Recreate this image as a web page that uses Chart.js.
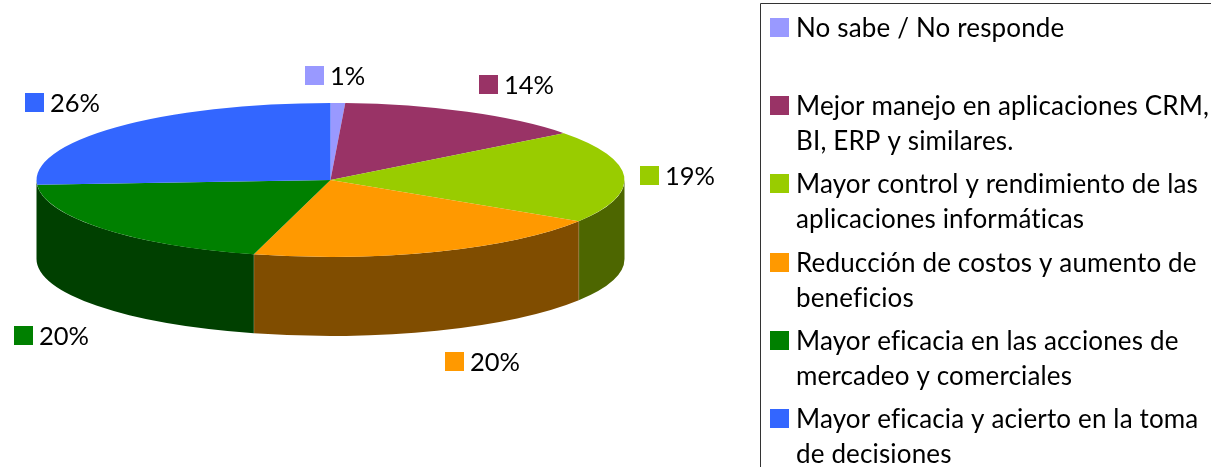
<!DOCTYPE html>
<html>
<head>
<meta charset="utf-8">
<title>Pie 3D</title>
<script src="https://cdn.jsdelivr.net/npm/chart.js@4"></script>
<style>
  html, body { margin: 0; padding: 0; background: #fff; overflow: hidden; }
  canvas { display: block; }
</style>
</head>
<body>
<canvas id="pie3d" width="1211" height="467"></canvas>
<script>
// Data (slice sizes estimated, labels show them rounded)
const categories = [
    ['No sabe / No responde'],
    ['Mejor manejo en aplicaciones CRM,', 'BI, ERP y similares.'],
    ['Mayor control y rendimiento de las', 'aplicaciones informáticas'],
    ['Reducción de costos y aumento de', 'beneficios'],
    ['Mayor eficacia en las acciones de', 'mercadeo y comerciales'],
    ['Mayor eficacia y acierto en la toma', 'de decisiones']
];
const percents = [0.8, 13.8, 19.4, 20.2, 19.8, 26.0];
const topColors = ['#9999FF', '#993366', '#99CC00', '#FF9900', '#008000', '#3366FF'];
const wallColors = ['#4D4D80', '#4D1A33', '#4D6600', '#804D00', '#004000', '#1A3380'];

// Layout of the fake 3D disc and the boxes around it
const disc = { x: 330.5, y: 180, rx: 294, ry: 77, depth: 79 };
const labelSpots = [[305, 85], [479, 94], [640, 185], [445, 371], [14, 345], [25, 112]];
const legendBaselines = [37, 115, 193, 272, 350, 428];
const VALUE_FONT = '25.5px Lato';
const LEGEND_FONT = '26px Lato';
const SWATCH = 19;
const SNAP = 0.1; // radians, a wall this close to the rim edge is not worth a sliver

function squash(ctx, arc) {
    const r = arc.outerRadius;
    ctx.translate(disc.x, disc.y);
    ctx.scale(disc.rx / r, disc.ry / r);
    ctx.translate(-arc.x, -arc.y);
}

const pie3dPlugin = {
    id: 'pie3d',
    beforeDatasetsDraw(chart) {
        const ctx = chart.ctx;
        const arcs = chart.getDatasetMeta(0).data;

        // side wall: only the part of each slice facing the viewer (0 to PI on the canvas)
        arcs.forEach((arc, i) => {
            let from = Math.max(arc.startAngle, 0);
            let to = Math.min(arc.endAngle, Math.PI);
            if (to > Math.PI - SNAP) to = Math.PI;
            if (from > Math.PI - SNAP || to <= from) return;

            ctx.save();
            ctx.beginPath();
            ctx.ellipse(disc.x, disc.y, disc.rx, disc.ry, 0, from, to);
            ctx.ellipse(disc.x, disc.y + disc.depth, disc.rx, disc.ry, 0, to, from, true);
            ctx.closePath();
            ctx.fillStyle = wallColors[i];
            ctx.fill();

            // thin light seam where two wall colours meet
            if (to < Math.PI) {
                const px = disc.x + disc.rx * Math.cos(to);
                const py = disc.y + disc.ry * Math.sin(to);
                ctx.strokeStyle = 'rgba(255,255,255,0.25)';
                ctx.lineWidth = 1;
                ctx.beginPath();
                ctx.moveTo(px, py);
                ctx.lineTo(px, py + disc.depth);
                ctx.stroke();
            }
            ctx.restore();
        });

        // the library draws the top face inside this transform
        ctx.save();
        squash(ctx, arcs[0]);
    },
    afterDatasetsDraw(chart) {
        const ctx = chart.ctx;
        ctx.restore();

        ctx.save();
        ctx.textBaseline = 'alphabetic';

        // value labels
        ctx.font = VALUE_FONT;
        percents.forEach((v, i) => {
            const [x, base] = labelSpots[i];
            ctx.fillStyle = topColors[i];
            ctx.fillRect(x, base - SWATCH, SWATCH, SWATCH);
            ctx.fillStyle = '#000';
            ctx.fillText(Math.round(v) + '%', x + 25, base);
        });

        // legend box runs off the right and bottom of the picture
        ctx.strokeStyle = '#333';
        ctx.lineWidth = 1;
        ctx.beginPath();
        ctx.moveTo(1211, 3.5);
        ctx.lineTo(760.5, 3.5);
        ctx.lineTo(760.5, 467);
        ctx.stroke();

        ctx.font = LEGEND_FONT;
        ctx.letterSpacing = '0.15px';
        categories.forEach((lines, i) => {
            const base = legendBaselines[i];
            ctx.fillStyle = topColors[i];
            ctx.fillRect(770, base - SWATCH, SWATCH, SWATCH);
            ctx.fillStyle = '#000';
            lines.forEach((line, n) => ctx.fillText(line, 796, base + n * 35));
        });
        ctx.restore();
    }
};

new Chart(document.getElementById('pie3d'), {
    type: 'pie',
    data: {
        labels: categories,
        datasets: [{
            data: percents,
            backgroundColor: topColors,
            borderWidth: 0
        }]
    },
    options: {
        responsive: false,
        animation: false,
        plugins: {
            legend: { display: false },
            tooltip: { enabled: false }
        }
    },
    plugins: [pie3dPlugin]
});
</script>
</body>
</html>
